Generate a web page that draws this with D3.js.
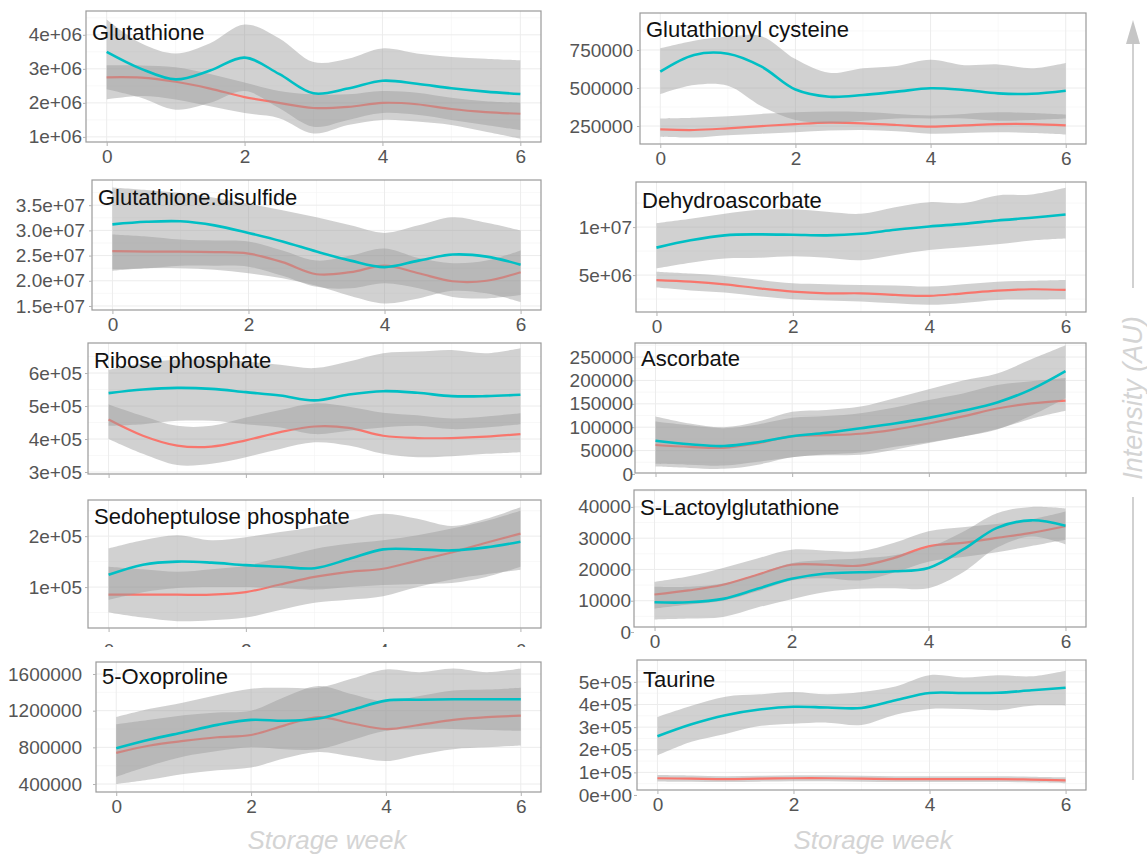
<!DOCTYPE html>
<html>
<head>
<meta charset="utf-8">
<script src="https://cdn.jsdelivr.net/npm/d3@7"></script>
<style>
  body { margin: 0; background: #fff; }
  svg { display: block; font-family: "Liberation Sans", Arial, sans-serif; }
</style>
</head>
<body>
<svg id="chart" width="1147" height="858"></svg>
<script>
// Smoothed metabolite intensity over storage (weeks 0-6), two groups with 95% bands.
const weeks = [0, 0.5, 1, 1.5, 2, 2.5, 3, 3.5, 4, 4.5, 5, 5.5, 6];

const titles = [
  "Glutathione", "Glutathione.disulfide", "Ribose phosphate", "Sedoheptulose phosphate", "5-Oxoproline",
  "Glutathionyl cysteine", "Dehydroascorbate", "Ascorbate", "S-Lactoylglutathione", "Taurine"
];

const yDomains = [
  [0.85e6, 4.7e6], [1.42e7, 4.0e7], [2.94e5, 6.91e5], [0.196e5, 2.71e5], [0.313e6, 1.731e6],
  [132000, 993000], [1.15e6, 1.47e7], [2100, 280000], [1600, 45400], [0.22e5, 5.97e5]
];

const yTickValues = [
  [1e6, 2e6, 3e6, 4e6],
  [1.5e7, 2.0e7, 2.5e7, 3.0e7, 3.5e7],
  [3e5, 4e5, 5e5, 6e5],
  [1e5, 2e5],
  [400000, 800000, 1200000, 1600000],
  [250000, 500000, 750000],
  [5e6, 1e7],
  [0, 50000, 100000, 150000, 200000, 250000],
  [0, 10000, 20000, 30000, 40000],
  [0, 1e5, 2e5, 3e5, 4e5, 5e5]
];

const yTickLabels = [
  ["1e+06", "2e+06", "3e+06", "4e+06"],
  ["1.5e+07", "2.0e+07", "2.5e+07", "3.0e+07", "3.5e+07"],
  ["3e+05", "4e+05", "5e+05", "6e+05"],
  ["1e+05", "2e+05"],
  ["400000", "800000", "1200000", "1600000"],
  ["250000", "500000", "750000"],
  ["5e+06", "1e+07"],
  ["0", "50000", "100000", "150000", "200000", "250000"],
  ["0", "10000", "20000", "30000", "40000"],
  ["0e+00", "1e+05", "2e+05", "3e+05", "4e+05", "5e+05"]
];

const xTickValues = [0, 2, 4, 6];

// Group 1 (teal) smoothed mean and band
const tealMean = [
  [3.50e6, 3.00e6, 2.69e6, 2.95e6, 3.33e6, 2.85e6, 2.28e6, 2.42e6, 2.65e6, 2.56e6, 2.43e6, 2.33e6, 2.26e6],
  [3.12e7, 3.17e7, 3.18e7, 3.10e7, 2.95e7, 2.78e7, 2.58e7, 2.40e7, 2.27e7, 2.40e7, 2.52e7, 2.48e7, 2.32e7],
  [5.39e5, 5.50e5, 5.55e5, 5.52e5, 5.42e5, 5.32e5, 5.17e5, 5.35e5, 5.45e5, 5.40e5, 5.30e5, 5.30e5, 5.34e5],
  [1.24e5, 1.44e5, 1.50e5, 1.48e5, 1.43e5, 1.40e5, 1.37e5, 1.55e5, 1.74e5, 1.74e5, 1.72e5, 1.78e5, 1.89e5],
  [0.79e6, 0.885e6, 0.965e6, 1.045e6, 1.10e6, 1.09e6, 1.115e6, 1.21e6, 1.31e6, 1.32e6, 1.325e6, 1.325e6, 1.325e6],
  [607000, 717000, 725000, 640000, 490000, 443000, 454000, 476000, 498000, 487000, 465000, 462000, 482000],
  [7.86e6, 8.62e6, 9.14e6, 9.24e6, 9.20e6, 9.14e6, 9.31e6, 9.72e6, 10.07e6, 10.34e6, 10.69e6, 10.97e6, 11.31e6],
  [70900, 63400, 59700, 67900, 80600, 88000, 97800, 108000, 120000, 135000, 153000, 181000, 220000],
  [9500, 9500, 10600, 13800, 17000, 18700, 19100, 19400, 20500, 26300, 33300, 35700, 34000],
  [2.60e5, 3.13e5, 3.53e5, 3.78e5, 3.90e5, 3.87e5, 3.85e5, 4.19e5, 4.51e5, 4.51e5, 4.52e5, 4.63e5, 4.74e5]
];
const tealLow = [
  [2.40e6, 2.15e6, 1.80e6, 2.00e6, 2.35e6, 1.85e6, 1.30e6, 1.50e6, 1.70e6, 1.65e6, 1.50e6, 1.35e6, 1.20e6],
  [2.20e7, 2.25e7, 2.25e7, 2.22e7, 2.15e7, 2.05e7, 1.90e7, 1.70e7, 1.55e7, 1.65e7, 1.80e7, 1.75e7, 1.58e7],
  [4.40e5, 4.45e5, 4.55e5, 4.55e5, 4.45e5, 4.35e5, 4.15e5, 4.25e5, 4.35e5, 4.40e5, 4.30e5, 4.35e5, 4.45e5],
  [0.75e5, 0.90e5, 0.98e5, 1.00e5, 1.00e5, 0.98e5, 0.95e5, 1.00e5, 1.04e5, 1.06e5, 1.08e5, 1.20e5, 1.40e5],
  [0.48e6, 0.60e6, 0.70e6, 0.76e6, 0.80e6, 0.78e6, 0.78e6, 0.88e6, 0.98e6, 1.00e6, 1.00e6, 0.99e6, 0.98e6],
  [460000, 520000, 515000, 380000, 290000, 270000, 285000, 300000, 300000, 300000, 285000, 290000, 300000],
  [5.69e6, 6.28e6, 6.72e6, 6.80e6, 6.97e6, 6.80e6, 6.55e6, 7.10e6, 7.60e6, 7.90e6, 8.20e6, 8.60e6, 8.80e6],
  [22000, 20000, 18000, 26000, 36000, 42000, 46000, 58000, 68000, 80000, 95000, 125000, 162000],
  [4000, 4300, 4800, 7800, 10500, 12800, 13800, 14000, 14000, 19000, 27000, 30500, 28000],
  [1.75e5, 2.35e5, 2.70e5, 3.05e5, 3.15e5, 3.20e5, 3.10e5, 3.55e5, 3.80e5, 3.80e5, 3.75e5, 3.95e5, 3.95e5]
];
const tealHigh = [
  [4.45e6, 3.75e6, 3.45e6, 3.75e6, 4.30e6, 3.90e6, 3.20e6, 3.30e6, 3.60e6, 3.45e6, 3.35e6, 3.30e6, 3.25e6],
  [3.85e7, 3.80e7, 3.74e7, 3.65e7, 3.53e7, 3.40e7, 3.26e7, 3.10e7, 2.95e7, 3.10e7, 3.26e7, 3.15e7, 3.00e7],
  [6.10e5, 6.30e5, 6.40e5, 6.40e5, 6.35e5, 6.25e5, 6.15e5, 6.35e5, 6.60e5, 6.65e5, 6.70e5, 6.60e5, 6.75e5],
  [1.76e5, 1.92e5, 2.02e5, 1.92e5, 1.98e5, 2.08e5, 2.18e5, 2.31e5, 2.44e5, 2.34e5, 2.20e5, 2.34e5, 2.57e5],
  [1.13e6, 1.22e6, 1.29e6, 1.37e6, 1.44e6, 1.45e6, 1.45e6, 1.55e6, 1.65e6, 1.62e6, 1.66e6, 1.62e6, 1.66e6],
  [760000, 810000, 838000, 840000, 690000, 600000, 630000, 645000, 685000, 650000, 655000, 630000, 665000],
  [10.4e6, 10.86e6, 11.38e6, 11.8e6, 11.85e6, 11.6e6, 11.38e6, 12.07e6, 12.6e6, 12.5e6, 13.3e6, 13.4e6, 14.1e6],
  [123000, 108000, 100000, 112000, 133000, 137000, 144000, 162000, 181000, 200000, 215000, 245000, 275000],
  [14500, 14500, 15500, 18500, 22000, 23000, 23500, 24500, 27000, 32000, 38000, 40000, 39500],
  [3.45e5, 3.95e5, 4.35e5, 4.45e5, 4.55e5, 4.45e5, 4.55e5, 4.80e5, 5.30e5, 5.20e5, 5.30e5, 5.25e5, 5.50e5]
];

// Group 2 (red) smoothed mean and band
const redMean = [
  [2.75e6, 2.74e6, 2.62e6, 2.42e6, 2.17e6, 2.00e6, 1.85e6, 1.88e6, 2.00e6, 1.96e6, 1.82e6, 1.73e6, 1.68e6],
  [2.59e7, 2.58e7, 2.58e7, 2.57e7, 2.54e7, 2.37e7, 2.13e7, 2.17e7, 2.30e7, 2.15e7, 1.99e7, 2.00e7, 2.17e7],
  [4.59e5, 4.10e5, 3.80e5, 3.77e5, 3.96e5, 4.21e5, 4.38e5, 4.34e5, 4.10e5, 4.03e5, 4.03e5, 4.07e5, 4.15e5],
  [0.85e5, 0.85e5, 0.85e5, 0.85e5, 0.90e5, 1.05e5, 1.20e5, 1.30e5, 1.36e5, 1.52e5, 1.68e5, 1.87e5, 2.05e5],
  [0.74e6, 0.82e6, 0.87e6, 0.91e6, 0.935e6, 1.04e6, 1.13e6, 1.06e6, 1.00e6, 1.045e6, 1.10e6, 1.13e6, 1.145e6],
  [228000, 224000, 235000, 250000, 263000, 272000, 268000, 257000, 246000, 254000, 263000, 263000, 254000],
  [4.48e6, 4.31e6, 4.03e6, 3.62e6, 3.28e6, 3.10e6, 3.10e6, 2.93e6, 2.83e6, 3.10e6, 3.38e6, 3.52e6, 3.45e6],
  [62000, 58000, 56000, 66000, 81000, 83000, 86000, 95000, 108000, 123000, 140000, 151000, 157000],
  [12000, 13300, 15100, 18300, 21500, 21500, 21200, 23700, 27400, 28500, 30100, 31700, 33800],
  [0.74e5, 0.72e5, 0.70e5, 0.72e5, 0.74e5, 0.74e5, 0.72e5, 0.70e5, 0.70e5, 0.70e5, 0.70e5, 0.68e5, 0.65e5]
];
const redLow = [
  [2.10e6, 2.20e6, 2.10e6, 1.90e6, 1.70e6, 1.55e6, 1.10e6, 1.35e6, 1.50e6, 1.45e6, 1.35e6, 1.15e6, 0.95e6],
  [2.23e7, 2.25e7, 2.30e7, 2.30e7, 2.28e7, 2.10e7, 1.88e7, 1.85e7, 1.95e7, 1.85e7, 1.68e7, 1.65e7, 1.72e7],
  [4.00e5, 3.55e5, 3.21e5, 3.25e5, 3.45e5, 3.70e5, 3.90e5, 3.80e5, 3.55e5, 3.45e5, 3.48e5, 3.55e5, 3.60e5],
  [0.50e5, 0.40e5, 0.33e5, 0.35e5, 0.40e5, 0.55e5, 0.69e5, 0.75e5, 0.82e5, 1.00e5, 1.15e5, 1.25e5, 1.34e5],
  [0.40e6, 0.45e6, 0.51e6, 0.55e6, 0.58e6, 0.68e6, 0.75e6, 0.70e6, 0.65e6, 0.72e6, 0.78e6, 0.80e6, 0.82e6],
  [180000, 175000, 190000, 200000, 210000, 220000, 224000, 215000, 200000, 205000, 210000, 205000, 195000],
  [3.70e6, 3.40e6, 3.17e6, 2.80e6, 2.48e6, 2.35e6, 2.24e6, 2.05e6, 1.90e6, 2.10e6, 2.41e6, 2.45e6, 2.48e6],
  [16000, 13000, 11000, 20000, 36000, 40000, 41000, 52000, 66000, 80000, 96000, 118000, 135000],
  [7500, 8800, 10000, 13000, 16500, 17200, 16500, 19000, 22500, 24000, 25500, 27500, 29500],
  [0.60e5, 0.58e5, 0.57e5, 0.59e5, 0.61e5, 0.61e5, 0.59e5, 0.57e5, 0.57e5, 0.57e5, 0.57e5, 0.55e5, 0.52e5]
];
const redHigh = [
  [3.10e6, 3.10e6, 3.05e6, 2.85e6, 2.60e6, 2.35e6, 2.25e6, 2.25e6, 2.35e6, 2.30e6, 2.15e6, 2.05e6, 2.00e6],
  [2.92e7, 2.88e7, 2.82e7, 2.80e7, 2.78e7, 2.60e7, 2.40e7, 2.50e7, 2.64e7, 2.45e7, 2.35e7, 2.40e7, 2.60e7],
  [5.05e5, 4.70e5, 4.40e5, 4.40e5, 4.65e5, 4.88e5, 5.08e5, 4.98e5, 4.80e5, 4.72e5, 4.62e5, 4.68e5, 4.78e5],
  [1.40e5, 1.35e5, 1.30e5, 1.35e5, 1.42e5, 1.58e5, 1.75e5, 1.85e5, 1.92e5, 2.02e5, 2.15e5, 2.30e5, 2.50e5],
  [1.05e6, 1.10e6, 1.15e6, 1.18e6, 1.20e6, 1.35e6, 1.47e6, 1.38e6, 1.30e6, 1.36e6, 1.42e6, 1.43e6, 1.45e6],
  [300000, 305000, 315000, 330000, 340000, 345000, 342000, 330000, 320000, 330000, 340000, 335000, 325000],
  [5.34e6, 5.15e6, 4.90e6, 4.50e6, 4.14e6, 4.05e6, 3.97e6, 3.90e6, 3.80e6, 4.05e6, 4.31e6, 4.40e6, 4.48e6],
  [112000, 104000, 98000, 106000, 120000, 124000, 130000, 142000, 158000, 172000, 190000, 198000, 205000],
  [16000, 17800, 20500, 23500, 26300, 26000, 25800, 28500, 32200, 33500, 34500, 36000, 38500],
  [0.88e5, 0.86e5, 0.83e5, 0.85e5, 0.87e5, 0.87e5, 0.85e5, 0.83e5, 0.83e5, 0.83e5, 0.83e5, 0.81e5, 0.78e5]
];

// Panel boxes in page pixels; labelRight is where y tick labels end, titleDy places the title baseline
const layout = [
  { l: 86, t: 11, r: 541, b: 142, labelRight: 82, titleDy: 29, xLabels: "full" },
  { l: 92, t: 180, r: 541, b: 310, labelRight: 85, titleDy: 25, xLabels: "full" },
  { l: 88, t: 343, r: 541, b: 474, labelRight: 82, titleDy: 25, xLabels: "none" },
  { l: 88, t: 500, r: 541, b: 628, labelRight: 82, titleDy: 24, xLabels: "clip" },
  { l: 96, t: 662, r: 541, b: 792, labelRight: 82, titleDy: 22, xLabels: "full" },
  { l: 640, t: 13, r: 1086, b: 144, labelRight: 633, titleDy: 24, xLabels: "full" },
  { l: 636, t: 182, r: 1086, b: 312, labelRight: 632, titleDy: 26, xLabels: "full" },
  { l: 635, t: 343, r: 1086, b: 473, labelRight: 633, titleDy: 23, xLabels: "none" },
  { l: 634, t: 490, r: 1086, b: 627, labelRight: 631, titleDy: 25, xLabels: "full" },
  { l: 637, t: 660, r: 1086, b: 790, labelRight: 632, titleDy: 27, xLabels: "full" }
];

const TEAL = "#00BFC4";
const RED = "#F8766D";
const BAND = "#999999";
const TICK_TEXT = "#555555";
const FRAME = "#9a9a9a";
const GRID = "#ececec";
const GRID_MINOR = "#f4f4f4";
const AXIS_TITLE = "#d4d4d4";
const FONT = "'Liberation Sans', Arial, sans-serif";

const svg = d3.select("#chart");
const defs = svg.append("defs");
const curve = d3.curveCatmullRom.alpha(0.5);

layout.forEach((box, i) => {
  const x = d3.scaleLinear().domain([-0.3, 6.3]).range([box.l, box.r]);
  const y = d3.scaleLinear().domain(yDomains[i]).range([box.b, box.t]);
  const g = svg.append("g").attr("class", "panel");

  // panel background
  g.append("rect").attr("x", box.l).attr("y", box.t)
    .attr("width", box.r - box.l).attr("height", box.b - box.t).attr("fill", "#fff");

  // grid
  const yt = yTickValues[i];
  const step = yt.length > 1 ? yt[1] - yt[0] : 1e5;
  const minorY = d3.range(yt[0] - step / 2, yDomains[i][1], step).filter(v => v > yDomains[i][0] && v < yDomains[i][1]);
  const majorY = yt.filter(v => v >= yDomains[i][0] && v <= yDomains[i][1]);
  g.selectAll(null).data([1, 3, 5]).enter().append("line")
    .attr("x1", d => x(d)).attr("x2", d => x(d)).attr("y1", box.t).attr("y2", box.b)
    .attr("stroke", GRID_MINOR).attr("stroke-width", 0.6);
  g.selectAll(null).data(minorY).enter().append("line")
    .attr("x1", box.l).attr("x2", box.r).attr("y1", d => y(d)).attr("y2", d => y(d))
    .attr("stroke", GRID_MINOR).attr("stroke-width", 0.6);
  g.selectAll(null).data(xTickValues).enter().append("line")
    .attr("x1", d => x(d)).attr("x2", d => x(d)).attr("y1", box.t).attr("y2", box.b)
    .attr("stroke", GRID).attr("stroke-width", 1);
  g.selectAll(null).data(majorY).enter().append("line")
    .attr("x1", box.l).attr("x2", box.r).attr("y1", d => y(d)).attr("y2", d => y(d))
    .attr("stroke", GRID).attr("stroke-width", 1);

  // clip to the panel area
  const clipId = "clip" + i;
  defs.append("clipPath").attr("id", clipId).append("rect")
    .attr("x", box.l).attr("y", box.t).attr("width", box.r - box.l).attr("height", box.b - box.t);
  const plot = g.append("g").attr("clip-path", `url(#${clipId})`);

  const area = (lo, hi) => d3.area().curve(curve)
    .x((d, k) => x(weeks[k])).y0((d, k) => y(lo[k])).y1((d, k) => y(hi[k]));
  const line = vals => d3.line().curve(curve)
    .x((d, k) => x(weeks[k])).y((d, k) => y(vals[k]));

  // red group first, then teal (its band sits over the red line)
  plot.append("path").attr("d", area(redLow[i], redHigh[i])(weeks))
    .attr("fill", BAND).attr("fill-opacity", 0.45);
  plot.append("path").attr("d", line(redMean[i])(weeks))
    .attr("fill", "none").attr("stroke", RED).attr("stroke-width", 2.2);
  plot.append("path").attr("d", area(tealLow[i], tealHigh[i])(weeks))
    .attr("fill", BAND).attr("fill-opacity", 0.45);
  plot.append("path").attr("d", line(tealMean[i])(weeks))
    .attr("fill", "none").attr("stroke", TEAL).attr("stroke-width", 2.6);

  // frame
  g.append("rect").attr("x", box.l).attr("y", box.t)
    .attr("width", box.r - box.l).attr("height", box.b - box.t)
    .attr("fill", "none").attr("stroke", FRAME).attr("stroke-width", 1.2);

  // title
  g.append("text").attr("x", box.l + 6).attr("y", box.t + box.titleDy)
    .attr("font-size", 22).attr("fill", "#111").text(titles[i]);

  // y axis
  const tickLen = 3;
  const yAxis = d3.axisLeft(y).tickValues(yt).tickSize(tickLen)
    .tickPadding(box.l - box.labelRight - tickLen)
    .tickFormat((d, k) => yTickLabels[i][k]);
  const ya = g.append("g").attr("transform", `translate(${box.l},0)`).call(yAxis);
  ya.select(".domain").remove();
  ya.selectAll(".tick line").attr("stroke", "#b3b3b3");
  ya.selectAll(".tick text").attr("fill", TICK_TEXT).attr("font-size", 19).attr("font-family", FONT);

  // x axis
  const xAxis = d3.axisBottom(x).tickValues(xTickValues).tickSize(4).tickPadding(4)
    .tickFormat(d3.format("d"));
  const xa = g.append("g").attr("transform", `translate(0,${box.b})`).call(xAxis);
  xa.select(".domain").remove();
  xa.selectAll(".tick line").attr("stroke", "#b3b3b3");
  xa.selectAll(".tick text").attr("fill", TICK_TEXT).attr("font-size", 19).attr("font-family", FONT);
  if (box.xLabels === "none") {
    xa.selectAll(".tick text").remove();
  } else if (box.xLabels === "clip") {
    const cid = "xclip" + i;
    defs.append("clipPath").attr("id", cid).append("rect")
      .attr("x", box.l - 20).attr("y", 0).attr("width", box.r - box.l + 40).attr("height", 19);
    xa.attr("clip-path", `url(#${cid})`);
    xa.selectAll(".tick text").attr("dy", "1.1em");
  }
});

// axis titles
["Storage week", "Storage week"].forEach((label, k) => {
  svg.append("text").attr("x", k === 0 ? 327 : 873).attr("y", 849).attr("text-anchor", "middle")
    .attr("font-size", 26).attr("font-style", "italic").attr("fill", AXIS_TITLE).text(label);
});

// vertical intensity arrow with its label
const ax = 1133;
svg.append("path").attr("d", `M${ax - 7},44 L${ax},20 L${ax + 7},44 Z`).attr("fill", "#c6c6c6");
svg.append("line").attr("x1", ax).attr("x2", ax).attr("y1", 40).attr("y2", 288)
  .attr("stroke", "#c6c6c6").attr("stroke-width", 1.6);
svg.append("line").attr("x1", ax).attr("x2", ax).attr("y1", 497).attr("y2", 780)
  .attr("stroke", "#c6c6c6").attr("stroke-width", 1.6);
svg.append("text").attr("transform", `translate(${ax + 9},398) rotate(-90)`)
  .attr("text-anchor", "middle").attr("font-size", 27).attr("font-style", "italic")
  .attr("fill", AXIS_TITLE).text("Intensity (AU)");
</script>
</body>
</html>
